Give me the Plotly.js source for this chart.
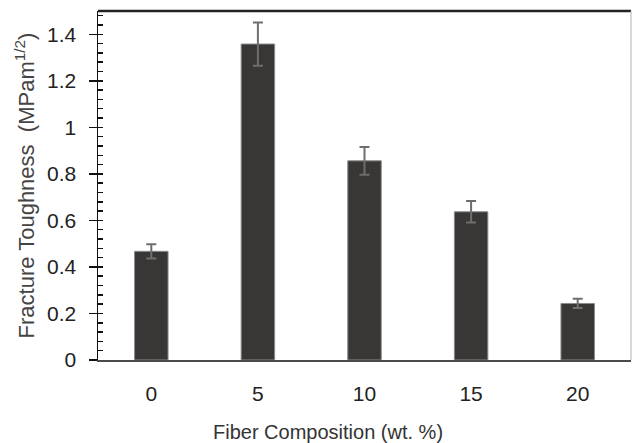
<!DOCTYPE html>
<html>
<head>
<meta charset="utf-8">
<script src="https://cdn.plot.ly/plotly-3.0.1.min.js"></script>
<style>html,body{margin:0;padding:0;background:#fff;}#chart{width:632px;height:443px;}</style>
</head>
<body>
<div id="chart"></div>
<script>
// Data
const categories = ['0', '5', '10', '15', '20'];
const toughness = [0.467, 1.358, 0.856, 0.637, 0.243];
const toughnessError = [0.031, 0.093, 0.060, 0.046, 0.020];
const yTickValues = [0, 0.2, 0.4, 0.6, 0.8, 1, 1.2, 1.4];
const yTickLabels = ['0', '0.2', '0.4', '0.6', '0.8', '1', '1.2', '1.4'];
const xTitle = 'Fiber Composition (wt. %)';
const yTitle = 'Fracture Toughness\u00a0\u00a0(MPam<sup>1/2</sup>)';

const FONT = '"Liberation Sans", Arial, sans-serif';

const traces = [{
  type: 'bar',
  x: categories,
  y: toughness,
  marker: { color: '#393735', line: { color: '#8a8a8a', width: 1 } },
  error_y: { type: 'data', array: toughnessError, visible: true, color: '#6e6e6e', thickness: 2, width: 5 },
  hoverinfo: 'skip'
}, {
  type: 'scatter', x: categories, y: toughness, yaxis: 'y2', mode: 'none', hoverinfo: 'skip', showlegend: false
}];

const layout = {
  width: 632, height: 443,
  margin: { l: 98, r: 1, t: 11, b: 83 },
  paper_bgcolor: '#ffffff', plot_bgcolor: '#ffffff',
  showlegend: false,
  bargap: 0.686,
  font: { family: FONT, color: '#222' },
  xaxis: {
    type: 'category',
    showline: true, linecolor: '#4a4a4a', linewidth: 2,
    ticks: '', showgrid: false, zeroline: false,
    tickfont: { size: 21, color: '#222', family: FONT },
    ticklabelstandoff: 14,
    automargin: false
  },
  yaxis: {
    range: [0, 1.5],
    showline: true, linecolor: '#111', linewidth: 1.5,
    ticks: 'outside', ticklen: 8, tickwidth: 1.5, tickcolor: '#111',
    tickvals: yTickValues, ticktext: yTickLabels,
    showgrid: false, zeroline: false,
    tickfont: { size: 21, color: '#222', family: FONT },
    ticklabelstandoff: 8,
    title: { text: yTitle, font: { size: 22, color: '#444', family: FONT }, standoff: 6 },
    automargin: false
  },
  yaxis2: {
    overlaying: 'y', side: 'left', anchor: 'x',
    range: [0, 1.5],
    ticks: 'inside', ticklen: 5, tickwidth: 1.5, tickcolor: '#111',
    dtick: 0.04, tick0: 0,
    showticklabels: false, showgrid: false, zeroline: false, showline: false
  },
  annotations: [{
    text: xTitle, xref: 'paper', yref: 'paper', x: 0.4315, y: 0, yshift: -72,
    xanchor: 'center', yanchor: 'middle', showarrow: false,
    font: { size: 20, color: '#333', family: FONT }
  }],
  shapes: [
    { type: 'line', xref: 'paper', yref: 'paper', x0: 0, x1: 1, y0: 1, y1: 1, line: { color: '#222', width: 2.5 } },
    { type: 'line', xref: 'paper', yref: 'paper', x0: 1, x1: 1, y0: 0, y1: 1, line: { color: '#b0b0b0', width: 1 } }
  ]
};

Plotly.newPlot('chart', traces, layout, { displayModeBar: false, staticPlot: true });
</script>
</body>
</html>
